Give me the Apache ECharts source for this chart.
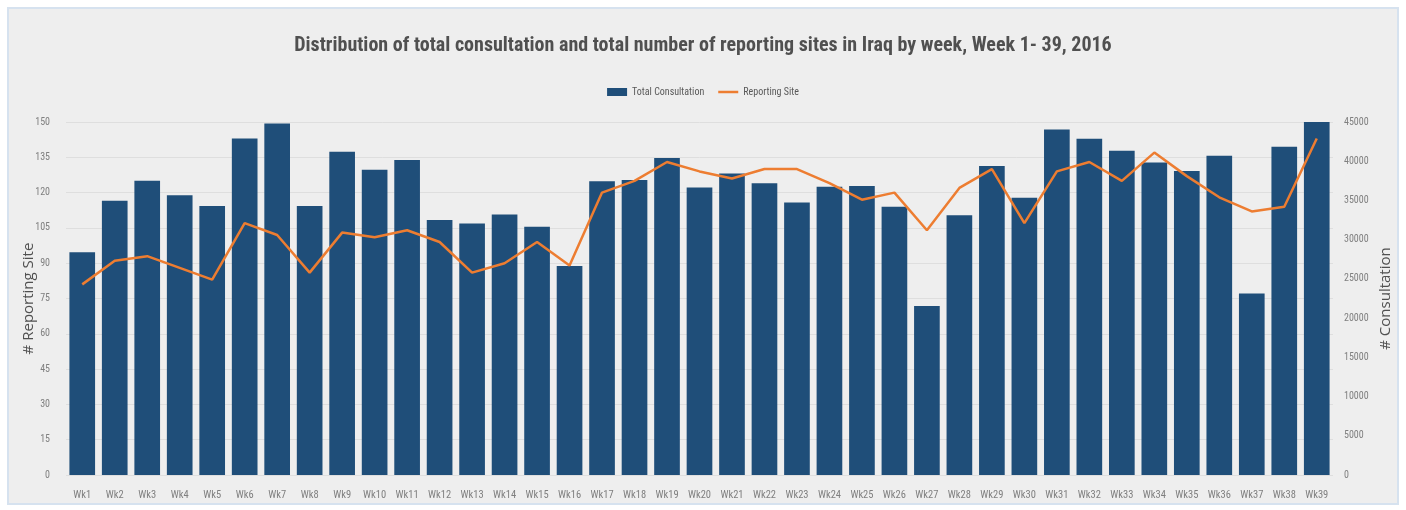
<!DOCTYPE html>
<html>
<head>
<meta charset="utf-8">
<script src="https://cdn.jsdelivr.net/npm/echarts@6/dist/echarts.min.js"></script>
<style>
html,body{margin:0;padding:0;background:#fff;}
#c{width:1406px;height:510px;}
</style>
</head>
<body>
<div id="c"></div>
<script>
const weeks = ["Wk1","Wk2","Wk3","Wk4","Wk5","Wk6","Wk7","Wk8","Wk9","Wk10","Wk11","Wk12","Wk13","Wk14","Wk15","Wk16","Wk17","Wk18","Wk19","Wk20","Wk21","Wk22","Wk23","Wk24","Wk25","Wk26","Wk27","Wk28","Wk29","Wk30","Wk31","Wk32","Wk33","Wk34","Wk35","Wk36","Wk37","Wk38","Wk39"];
const totalConsultation = [28400,34950,37500,35650,34300,42900,44800,34300,41200,38900,40150,32500,32050,33200,31650,26650,37450,37600,40400,36650,38450,37200,34750,36750,36850,34200,21550,33100,39400,35350,44050,42850,41350,39850,38750,40700,23150,41850,45000];
const reportingSite = [81,91,93,88,83,107,102,86,103,101,104,99,86,90,99,89,120,125,133,129,126,130,130,124,117,120,104,122,130,107,129,133,125,137,127,118,112,114,143];

const narrow = '"Liberation Sans Narrow", "Roboto Condensed", "DejaVu Sans Condensed", sans-serif';
const chart = echarts.init(document.getElementById('c'), null, {renderer:'canvas'});
chart.setOption({
  backgroundColor: '#ffffff',
  animation: false,
  graphic: [{
    type: 'rect', z: -10, silent: true,
    shape: {x: 8, y: 8, width: 1390, height: 496},
    style: {fill: '#eeeeee', stroke: '#d6e2ef', lineWidth: 2}
  }],
  title: {
    text: 'Distribution of total consultation and total number of reporting sites in Iraq by week, Week 1- 39, 2016',
    left: 'center', top: 31,
    textStyle: {fontFamily: narrow, fontSize: 20, fontWeight: 'bold', color: '#505050'}
  },
  legend: {
    top: 82, left: 'center',
    itemWidth: 20, itemHeight: 8, itemGap: 14,
    textStyle: {fontFamily: narrow, fontSize: 10, color: '#595959'},
    data: [
      {name: 'Total Consultation', icon: 'rect'},
      {name: 'Reporting Site', icon: 'path://M0,0 H20 V2.5 H0 Z'}
    ]
  },
  grid: {left: 66, right: 73, top: 122, bottom: 35},
  xAxis: {
    type: 'category', data: weeks,
    axisLine: {show: false}, axisTick: {show: false},
    axisLabel: {fontFamily: narrow, fontSize: 10.5, color: '#7f7f7f', margin: 15, interval: 0}
  },
  yAxis: [{
    type: 'value', min: 0, max: 150, interval: 15, position: 'left',
    name: '# Reporting Site', nameLocation: 'middle', nameGap: 30, nameRotate: 90,
    nameMoveOverlap: false,
    nameTextStyle: {fontFamily: '"Open Sans", sans-serif', fontSize: 15, color: '#505050'},
    axisLine: {show: false}, axisTick: {show: false},
    axisLabel: {fontFamily: narrow, fontSize: 10, color: '#7f7f7f', margin: 16},
    splitLine: {lineStyle: {color: '#dedede', width: 1}}
  }, {
    type: 'value', min: 0, max: 45000, interval: 5000, position: 'right',
    name: '# Consultation', nameLocation: 'middle', nameGap: 45, nameRotate: 90,
    nameMoveOverlap: false,
    nameTextStyle: {fontFamily: '"Open Sans", sans-serif', fontSize: 15, color: '#505050'},
    axisLine: {show: false}, axisTick: {show: false},
    axisLabel: {fontFamily: narrow, fontSize: 10, color: '#7f7f7f', margin: 11, formatter: v => String(v)},
    splitLine: {show: false}
  }],
  series: [{
    name: 'Total Consultation', type: 'bar', yAxisIndex: 1,
    data: totalConsultation, barCategoryGap: '21%',
    itemStyle: {color: '#1f4e79'}
  }, {
    name: 'Reporting Site', type: 'line', yAxisIndex: 0,
    data: reportingSite, symbol: 'none',
    lineStyle: {color: '#ed7d31', width: 2.5},
    itemStyle: {color: '#ed7d31'}
  }]
});
</script>
</body>
</html>
